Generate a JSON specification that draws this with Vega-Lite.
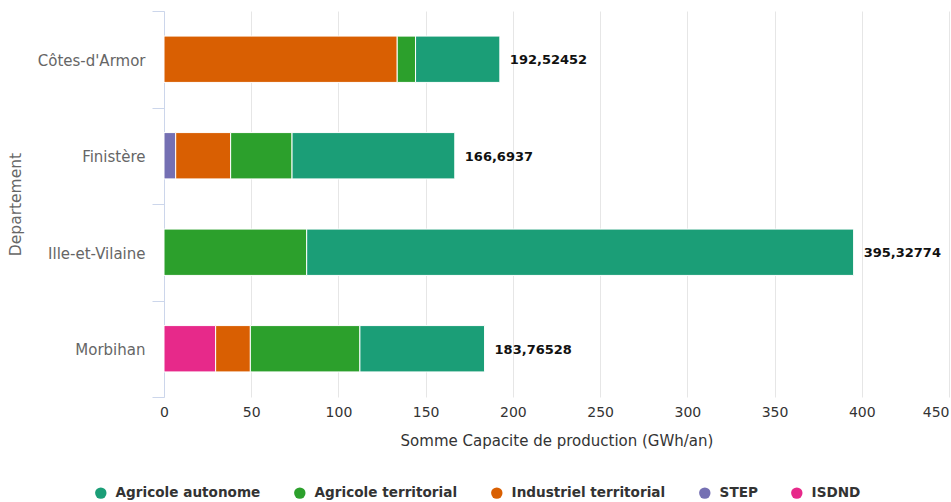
{
  "$schema": "https://vega.github.io/schema/vega-lite/v6.json",
  "width": 785,
  "height": 386,
  "autosize": {"type": "none"},
  "padding": {"left": 164, "top": 11, "right": 2, "bottom": 105},
  "background": "white",
  "config": {
    "view": {"stroke": null},
    "font": "DejaVu Sans"
  },
  "datasets": {
    "segments": [
      {"Departement": "Côtes-d'Armor", "Type": "Industriel territorial", "Capacite": 133.7, "ordre": 2},
      {"Departement": "Côtes-d'Armor", "Type": "Agricole territorial", "Capacite": 10.5, "ordre": 3},
      {"Departement": "Côtes-d'Armor", "Type": "Agricole autonome", "Capacite": 48.32452, "ordre": 4},
      {"Departement": "Finistère", "Type": "STEP", "Capacite": 6.7, "ordre": 1},
      {"Departement": "Finistère", "Type": "Industriel territorial", "Capacite": 31.5, "ordre": 2},
      {"Departement": "Finistère", "Type": "Agricole territorial", "Capacite": 35.2, "ordre": 3},
      {"Departement": "Finistère", "Type": "Agricole autonome", "Capacite": 93.2937, "ordre": 4},
      {"Departement": "Ille-et-Vilaine", "Type": "Agricole territorial", "Capacite": 81.8, "ordre": 3},
      {"Departement": "Ille-et-Vilaine", "Type": "Agricole autonome", "Capacite": 313.52774, "ordre": 4},
      {"Departement": "Morbihan", "Type": "ISDND", "Capacite": 29.6, "ordre": 0},
      {"Departement": "Morbihan", "Type": "Industriel territorial", "Capacite": 19.9, "ordre": 2},
      {"Departement": "Morbihan", "Type": "Agricole territorial", "Capacite": 62.8, "ordre": 3},
      {"Departement": "Morbihan", "Type": "Agricole autonome", "Capacite": 71.46528, "ordre": 4}
    ],
    "totals": [
      {"Departement": "Côtes-d'Armor", "Total": 192.52452, "Label": "192,52452"},
      {"Departement": "Finistère", "Total": 166.6937, "Label": "166,6937"},
      {"Departement": "Ille-et-Vilaine", "Total": 395.32774, "Label": "395,32774"},
      {"Departement": "Morbihan", "Total": 183.76528, "Label": "183,76528"}
    ]
  },
  "layer": [
    {
      "data": {"name": "segments"},
      "mark": {"type": "bar", "stroke": "white", "strokeWidth": 1, "height": {"band": 0.48}},
      "encoding": {
        "y": {
          "field": "Departement",
          "type": "nominal",
          "sort": ["Côtes-d'Armor", "Finistère", "Ille-et-Vilaine", "Morbihan"],
          "scale": {"paddingInner": 0, "paddingOuter": 0},
          "axis": {
            "title": "Departement",
            "titleFont": "DejaVu Sans",
            "titleFontSize": 15.5,
            "titleFontWeight": "normal",
            "titleColor": "#666666",
            "titleX": -149,
            "titleY": 193,
            "titleAngle": -90,
            "titleAlign": "center",
            "titleBaseline": "middle",
            "labelFont": "DejaVu Sans",
            "labelFontSize": 15,
            "labelColor": "#666666",
            "labelPadding": 7,
            "labelOffset": 1,
            "tickBand": "extent",
            "tickSize": 12,
            "tickColor": "#ccd6eb",
            "domainColor": "#ccd6eb",
            "grid": false
          }
        },
        "x": {
          "field": "Capacite",
          "type": "quantitative",
          "stack": "zero",
          "scale": {"domain": [0, 450], "nice": false},
          "axis": {
            "title": "Somme Capacite de production (GWh/an)",
            "titleFont": "DejaVu Sans",
            "titleFontSize": 15,
            "titleFontWeight": "normal",
            "titleColor": "#333333",
            "titlePadding": 14,
            "values": [0, 50, 100, 150, 200, 250, 300, 350, 400, 450],
            "labelFont": "DejaVu Sans",
            "labelFontSize": 14,
            "labelColor": "#333333",
            "labelPadding": 8,
            "labelAlign": {"condition": {"test": "datum.value == 450", "value": "right"}, "value": "center"},
            "ticks": false,
            "domain": false,
            "grid": true,
            "gridColor": "#e6e6e6",
            "gridWidth": 1
          }
        },
        "color": {
          "field": "Type",
          "type": "nominal",
          "scale": {
            "domain": ["Agricole autonome", "Agricole territorial", "Industriel territorial", "STEP", "ISDND"],
            "range": ["#1b9e77", "#2ca02c", "#d95f02", "#7570b3", "#e7298a"]
          },
          "legend": {
            "title": null,
            "orient": "none",
            "direction": "horizontal",
            "legendX": -70,
            "legendY": 475,
            "symbolType": "circle",
            "symbolSize": 130,
            "symbolStrokeWidth": 0,
            "labelFont": "DejaVu Sans",
            "labelFontSize": 13.6,
            "labelFontWeight": "bold",
            "labelColor": "#333333",
            "labelOffset": 8,
            "columnPadding": 32,
            "labelLimit": 300
          }
        },
        "order": {"field": "ordre", "type": "quantitative", "sort": "ascending"}
      }
    },
    {
      "data": {"name": "totals"},
      "mark": {"type": "text", "align": "left", "baseline": "middle", "dx": 10, "dy": 1, "font": "DejaVu Sans", "fontSize": 13, "fontWeight": "bold", "color": "#111111"},
      "encoding": {
        "y": {"field": "Departement", "type": "nominal", "sort": ["Côtes-d'Armor", "Finistère", "Ille-et-Vilaine", "Morbihan"]},
        "x": {"field": "Total", "type": "quantitative"},
        "text": {"field": "Label", "type": "nominal"}
      }
    }
  ]
}
